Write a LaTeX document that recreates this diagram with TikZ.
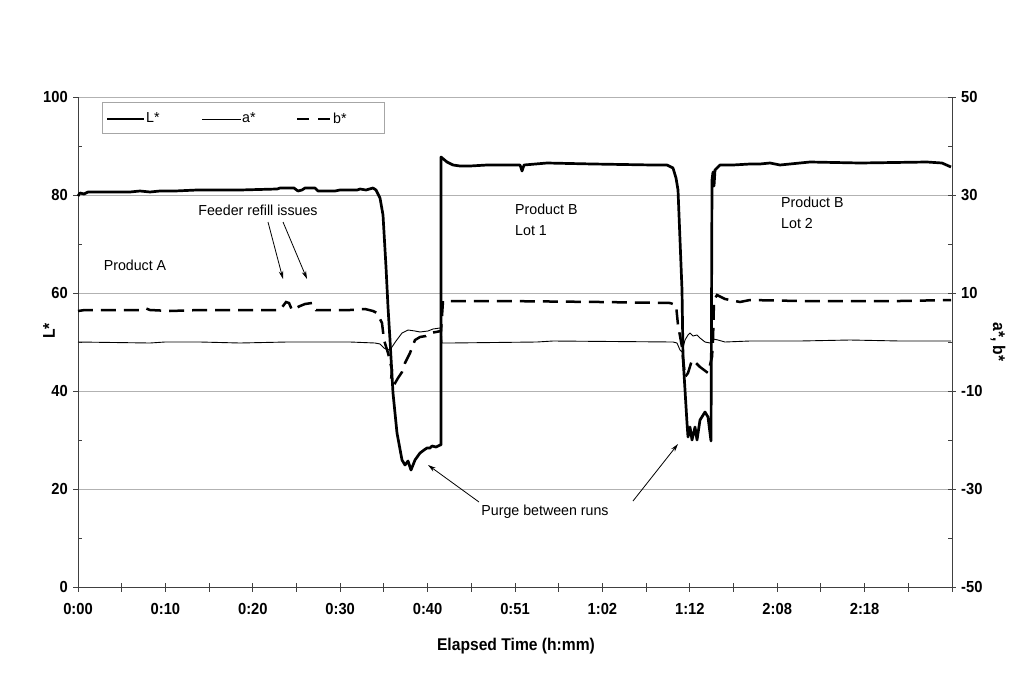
\documentclass[tikz,border=0pt]{standalone}
\usepackage{fontspec}
\setmainfont{Liberation Sans}[FakeStretch=0.92]
\newfontfamily\notefont{Liberation Sans}[FakeStretch=0.98]
\usetikzlibrary{arrows.meta}
\begin{document}
\begin{tikzpicture}[x=1pt,y=-1pt,
  gridline/.style={gray!60, line width=0.8pt},
  axisline/.style={black!75, line width=0.9pt},
  ylbl/.style={font=\bfseries\fontsize{16}{16}\selectfont, inner sep=0},
  xlbl/.style={font=\bfseries\fontsize{16}{16}\selectfont, inner sep=0},
  titlelbl/.style={font=\bfseries\fontsize{17}{17}\selectfont, inner sep=0},
  note/.style={font=\notefont\fontsize{14.5}{20.5}\selectfont, inner sep=0, align=left},
  Lcurve/.style={line width=2.7pt, line join=round},
  acurve/.style={line width=0.9pt, line join=round},
  bcurve/.style={line width=2.5pt, dash pattern=on 15pt off 8pt},
  notearrow/.style={-{Stealth[length=8pt,width=4.5pt]}, line width=0.8pt},
  legendbox/.style={draw=gray!70, line width=0.8pt, fill=white}
]
\useasboundingbox (0,0) rectangle (1024,675);
\fill[white] (0,0) rectangle (1024,675);

% gridlines
\foreach \yy in {195,293,391,489}
  \draw[gridline] (78,\yy) -- (952,\yy);
\draw[gridline] (78,97) -- (952,97);

% axes
\draw[axisline] (78,97) -- (78,587);
\draw[axisline] (952,97) -- (952,587);
\draw[axisline] (78,587) -- (952,587);

% left ticks and labels
\foreach \v [count=\k from 0] in {0,20,40,60,80,100} {
  \draw[axisline] (73,587-4.9*\v) -- (78,587-4.9*\v);
  \node[ylbl, anchor=east] (yl\k) at (68,587-4.9*\v) {\v};
}
\foreach \v in {10,30,50,70,90}
  \draw[axisline] (78,587-4.9*\v) -- (82,587-4.9*\v);

% right ticks and labels
\foreach \v [count=\k from 0] in {-50,-30,-10,10,30,50} {
  \draw[axisline] (948,342-4.9*\v) -- (956,342-4.9*\v);
  \node[ylbl, anchor=west] (yr\k) at (961,342-4.9*\v) {\v};
}
\foreach \v in {-40,-20,0,20,40}
  \draw[axisline] (948,342-4.9*\v) -- (952,342-4.9*\v);

% bottom ticks and labels
\foreach \i in {0,...,20}
  \draw[axisline] (78+\i*43.7,583) -- (78+\i*43.7,592);
\foreach \lab [count=\k from 0] in {0:00,0:10,0:20,0:30,0:40,0:51,1:02,1:12,2:08,2:18}
  \node[xlbl] (xl\k) at (78+\k*87.4,609) {\lab};

% axis titles
\node[titlelbl] (xtitle) at (516,646) {Elapsed Time (h:mm)};
\node[titlelbl, rotate=90] (ytitle) at (49,331) {L*};
\node[titlelbl, rotate=-90] (y2title) at (998,342) {a*, b*};

% a* curve
\draw[acurve] plot coordinates {(78,342) (150,343) (165,342) (200,342) (240,343) (287,342) (300,342) (350,342) (375,343) (380,344) (384,348) (388,350) (392,347) (396,341) (402,333) (408,330) (415,331) (420,332) (428,331) (433,329) (440,328) (441,328) (442,343) (450,343) (537,342) (553,341) (673,342) (677,343) (680,350) (682,352) (685,340) (688,335) (690,333) (693,336) (697,335) (700,338) (705,342) (710,343) (713,339) (718,340) (725,342) (750,341) (800,341) (850,340) (900,341) (951,341)};

% b* curve
\draw[bcurve] plot coordinates {(78,311) (85,310) (140,310) (145,308) (150,310) (170,311) (200,310) (280,310) (286,302) (289,303) (292,310) (300,306) (305,304) (312,303) (316,310) (350,310) (365,309) (373,311) (377,313) (382,323) (384,340) (388,353) (392,370) (391,380) (394,385) (398,378) (402,372) (405,363) (410,353) (415,340) (420,337) (426,336) (430,333) (436,332) (441,331) (443,301) (450,301) (500,301) (600,302) (670,303) (676,305) (678,325) (682,347) (684,367) (685,377) (688,373) (692,360) (696,363) (700,367) (708,373) (712,357) (713,340) (714,300) (717,295) (725,299) (730,300) (740,302) (750,300) (800,301) (850,301) (900,301) (951,300)};

% L* curve
\draw[Lcurve] plot coordinates {(78,196) (80,193) (84,194) (88,192) (130,192) (140,191) (150,192) (160,191) (175,191) (197,190) (240,190) (277,189) (280,188) (294,188) (298,191) (302,190) (305,188) (315,188) (318,191) (335,191) (340,190) (357,190) (360,189) (366,190) (373,188) (376,190) (380,198) (383,215) (386,267) (388,307) (390,340) (393,393) (397,433) (402,460) (405,465) (408,461) (411,470) (415,460) (420,453) (424,450) (427,448) (430,448) (432,446) (436,447) (440,445) (441,445) (441,157) (447,162) (453,165) (460,166) (470,166) (487,165) (520,165) (522,171) (524,165) (547,163) (593,164) (653,165) (667,165) (673,168) (676,178) (678,190) (680,240) (682,290) (683,357) (687,423) (688,437) (690,427) (692,440) (695,427) (697,440) (700,420) (705,412) (708,417) (711,441) (712,180) (713,172) (714,186) (715,170) (720,165) (733,165) (750,164) (760,164) (770,163) (780,165) (810,162) (860,163) (927,162) (942,163) (951,167)};

% legend
\draw[legendbox] (102,102) rectangle (384,133);
\coordinate (lgL1) at (107,119); \coordinate (lgL2) at (144,119);
\coordinate (lga1) at (202,119); \coordinate (lga2) at (241,119);
\coordinate (lgb1) at (297,119); \coordinate (lgb2) at (331,119);
\draw[Lcurve] (lgL1) -- (lgL2);
\draw[acurve] (lga1) -- (lga2);
\draw[line width=2.5pt, dash pattern=on 12pt off 9pt] (lgb1) -- (lgb2);
\node[note, anchor=west] (lgLt) at (146,118) {L*};
\node[note, anchor=west] (lgat) at (242,118) {a*};
\node[note, anchor=west] (lgbt) at (333,118) {b*};

% annotations
\node[note] (feeder) at (258,210) {Feeder refill issues};
\node[note] (prodA) at (135,265) {Product A};
\node[note, anchor=base west] (prodB1) at (515,235) {Product B\\Lot 1};
\node[note, anchor=base west] (prodB2) at (781,228) {Product B\\Lot 2};
\node[note] (purge) at (545,512) {Purge between runs};

\coordinate (fa1s) at (268,222); \coordinate (fa1e) at (283,279);
\coordinate (fa2s) at (283,222); \coordinate (fa2e) at (307,279);
\draw[notearrow] (fa1s) -- (fa1e);
\draw[notearrow] (fa2s) -- (fa2e);
\coordinate (pa1s) at (479,502); \coordinate (pa1e) at (428,465);
\coordinate (pa2s) at (633,501); \coordinate (pa2e) at (678,444);
\draw[notearrow] (pa1s) -- (pa1e);
\draw[notearrow] (pa2s) -- (pa2e);
\end{tikzpicture}
\end{document}
